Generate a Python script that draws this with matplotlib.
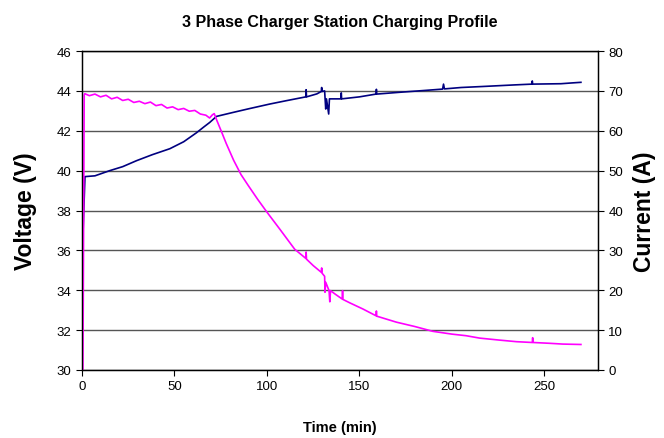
import matplotlib.pyplot as plt

plt.rcParams['font.family'] = ['Liberation Sans', 'DejaVu Sans']

######
# voltage readings (min, V)
######
t_volt = [0, 0.2, 1.6, 7, 15, 22, 29.5, 38, 47.5, 55, 61.9, 66, 69.1, 72.7,
          81.7, 90, 101.5, 110, 121, 121.2, 121.4, 127, 129.4, 129.6, 129.8,
          131.2, 131.8, 132.2, 133.4, 133.8, 140, 140.2, 140.4, 150, 159,
          159.2, 159.4, 171.7, 185, 195, 195.5, 196, 205, 216.5, 233.8,
          243.3, 243.5, 243.7, 259, 265, 269.8]
volt = [37.2, 35.9, 39.7, 39.74, 40.0, 40.2, 40.5, 40.8, 41.1, 41.45, 41.9,
        42.2, 42.42, 42.72, 42.92, 43.1, 43.34, 43.5, 43.7, 44.06, 43.7,
        43.85, 43.97, 44.17, 43.97, 44.0, 43.09, 43.6, 42.84, 43.6, 43.6,
        43.9, 43.6, 43.7, 43.84, 44.08, 43.84, 43.93, 44.02, 44.09, 44.34,
        44.1, 44.17, 44.22, 44.3, 44.34, 44.5, 44.34, 44.36, 44.4, 44.43]

######
# current readings (min, A)
######
t_curr = [0, 0.5, 1.2, 1.5, 4, 7, 10, 13, 16, 19, 22, 25, 28, 31, 34, 37, 40,
          43, 46, 49, 52, 55, 58, 61, 64, 67, 69, 70.5, 71.5, 73, 75.4, 78,
          82, 86, 90, 95, 100, 107, 115, 121, 121.2, 121.4, 125, 129.4,
          129.6, 129.8, 131.2, 131.4, 131.8, 133.6, 134, 134.4, 137, 140.7,
          140.9, 141.1, 145, 151.9, 159, 159.2, 159.4, 170, 180, 189.7, 200,
          207.7, 215, 225.7, 235, 243.5, 243.7, 243.9, 252.7, 260, 269.8]
curr = [0, 0, 69, 69.3, 68.8, 69.2, 68.5, 68.9, 68.0, 68.4, 67.6, 67.9, 67.1,
        67.4, 66.8, 67.2, 66.3, 66.6, 65.7, 66.0, 65.3, 65.6, 64.9, 65.1,
        64.2, 63.9, 63.2, 64.0, 64.3, 62.5, 59.8, 56.8, 52.6, 49.0, 46.2,
        42.8, 39.6, 35.3, 30.3, 28.0, 29.6, 27.8, 26.2, 24.5, 25.6, 24.3,
        23.5, 19.5, 22.0, 19.9, 17.1, 19.9, 19.0, 17.8, 19.9, 17.7, 16.8,
        15.3, 13.6, 14.8, 13.5, 12.0, 10.9, 9.7, 9.0, 8.6, 8.0, 7.5, 7.1,
        6.9, 8.1, 6.9, 6.7, 6.5, 6.4]

fig = plt.figure(figsize=(6.64, 4.39), dpi=100)
ax = fig.add_axes([0.1235, 0.1549, 0.777, 0.7266])
ax2 = ax.twinx()

ax.plot(t_volt, volt, color='#000080', lw=1.2)
ax2.plot(t_curr, curr, color='#FF00FF', lw=1.2)

ax.set_xlim(0, 279)
ax.set_ylim(30, 46)
ax2.set_ylim(0, 80)
ax.set_xticks([0, 50, 100, 150, 200, 250])
ax.set_yticks(range(30, 47, 2))
ax2.set_yticks(range(0, 81, 10))

ax.grid(axis='y', color='#555555', lw=1)
ax.set_axisbelow(True)
for a in (ax, ax2):
    a.tick_params(direction='out', length=4, labelsize=9.5, width=0.8)
    for s in a.spines.values():
        s.set_linewidth(0.9)

ax.set_title('3 Phase Charger Station Charging Profile', fontsize=11.5,
             fontweight='bold', pad=18)
ax.set_xlabel('Time (min)', fontsize=10.5, fontweight='bold', labelpad=20)
ax.set_ylabel('Voltage (V)', fontsize=16.5, fontweight='bold', labelpad=14)
ax2.set_ylabel('Current (A)', fontsize=16.5, fontweight='bold', labelpad=7)

plt.savefig('out.png', dpi=100)
